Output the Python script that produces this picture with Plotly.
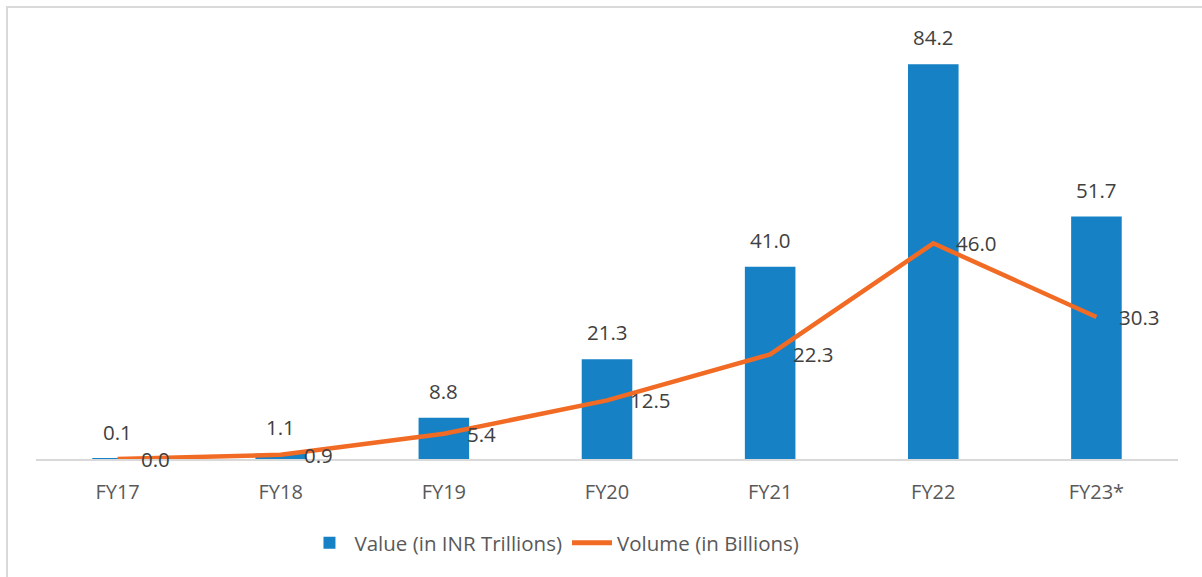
import plotly.graph_objects as go

# Fiscal years and the two series
years = ["FY17", "FY18", "FY19", "FY20", "FY21", "FY22", "FY23*"]
value_trn = [0.1, 1.1, 8.8, 21.3, 41.0, 84.2, 51.7]      # Value (in INR Trillions)
volume_bn = [0.0, 0.9, 5.4, 12.5, 22.3, 46.0, 30.3]      # Volume (in Billions)

BAR_COLOR = "#1681C4"
LINE_COLOR = "#F26B24"
LABEL_COLOR = "#404040"
AXIS_TEXT = "#595959"
FONT = "Open Sans"

fig = go.Figure()

fig.add_trace(go.Bar(
    x=years, y=value_trn, name="Value (in INR Trillions)",
    marker=dict(color=BAR_COLOR, line=dict(width=0)),
))

fig.add_trace(go.Scatter(
    x=years, y=volume_bn, name="Volume (in Billions)",
    mode="lines",
    line=dict(color=LINE_COLOR, width=4.5),
))

# Data labels: above the bars, to the right of the line points
for yr, v in zip(years, value_trn):
    fig.add_annotation(x=yr, y=v, text=f"{v:.1f}", showarrow=False,
                       xanchor="center", yanchor="middle", yshift=27,
                       font=dict(size=20.5, color=LABEL_COLOR, family=FONT))
for yr, v in zip(years, volume_bn):
    fig.add_annotation(x=yr, y=v, text=f"{v:.1f}", showarrow=False,
                       xanchor="left", yanchor="middle", xshift=21,
                       font=dict(size=20.5, color=LABEL_COLOR, family=FONT))

# Chart-area frame
fig.add_shape(type="rect", xref="paper", yref="paper",
              x0=-0.0254, x1=2, y0=-2, y1=1.071,
              line=dict(color="#D9D9D9", width=2), fillcolor="rgba(0,0,0,0)",
              layer="below")

fig.update_layout(
    width=1202, height=577,
    margin=dict(l=36, r=24, t=37, b=118),
    paper_bgcolor="white", plot_bgcolor="white",
    bargap=0.69,
    showlegend=True,
    legend=dict(orientation="h", x=0.454, xanchor="center", y=-0.199, yanchor="middle",
                font=dict(size=20.5, color=AXIS_TEXT, family=FONT),
                itemsizing="constant", traceorder="normal", itemwidth=40),
    font=dict(family=FONT, color=AXIS_TEXT),
    xaxis=dict(showline=True, linecolor="#D9D9D9", linewidth=2, showgrid=False,
               ticks="outside", ticklen=0, ticklabelstandoff=14,
               tickfont=dict(size=20, color=AXIS_TEXT, family=FONT)),
    yaxis=dict(range=[0, 90], visible=False, showgrid=False, zeroline=False),
)

fig.write_html("out.html")
